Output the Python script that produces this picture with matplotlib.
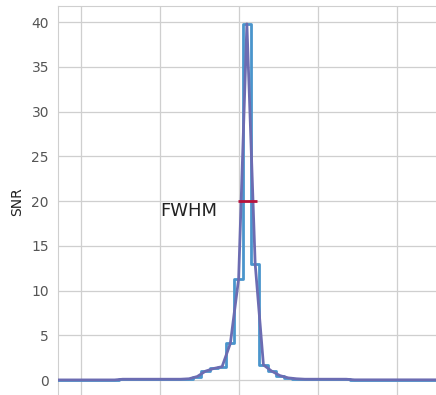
import matplotlib
matplotlib.use("Agg")
import matplotlib.pyplot as plt
import numpy as np

# offset from the line centre (one unit = one x gridline spacing)
x_offset = [0.10 + 0.105 * k for k in range(-23, 28)]

# SNR per bin, left wing -> peak -> right wing
snr = ([0.02] * 8            # k = -23 .. -16
       + [0.1] * 8           # k = -15 .. -8
       + [0.15, 0.4, 1.0, 1.3, 1.5, 4.1, 11.3]   # k = -7 .. -1
       + [39.8]              # k = 0
       + [13.0, 1.7, 1.0, 0.5, 0.25, 0.15]       # k = 1 .. 6
       + [0.1] * 6           # k = 7 .. 12
       + [0.03] * 15)        # k = 13 .. 27

half_max = 20.0
fwhm_left, fwhm_right = -0.015, 0.234

fig = plt.figure(figsize=(4.36, 3.95), dpi=100)
ax = fig.add_axes([0.133, -0.0076, 0.95, 0.9924])

ax.plot(x_offset, snr, drawstyle="steps-mid", color="#4a95cc", lw=2, zorder=3)
ax.plot(x_offset, snr, color="#6c6cb2", lw=2, zorder=4)
ax.hlines(half_max, fwhm_left, fwhm_right, color="#b8123c", lw=2, zorder=5)
ax.text(-1.0, half_max - 1.1, "FWHM", fontsize=13, ha="left", va="center", color="#222222")

ax.set_xlim(-2.298, 2.96)
ax.set_ylim(-2.0, 41.8)
ax.set_yticks(range(0, 41, 5))
ax.set_xticks([-2, -1, 0, 1, 2])
ax.set_ylabel("SNR", fontsize=10, color="#222222", labelpad=5)

ax.grid(True, color="#cfcfcf", lw=0.9)
ax.set_axisbelow(True)
for s in ax.spines.values():
    s.set_color("#cfcfcf")
ax.tick_params(axis="y", length=0, pad=6.5, labelsize=10, labelcolor="#555555")
ax.tick_params(axis="x", length=0, labelbottom=False)

fig.savefig("out.png", dpi=100)
